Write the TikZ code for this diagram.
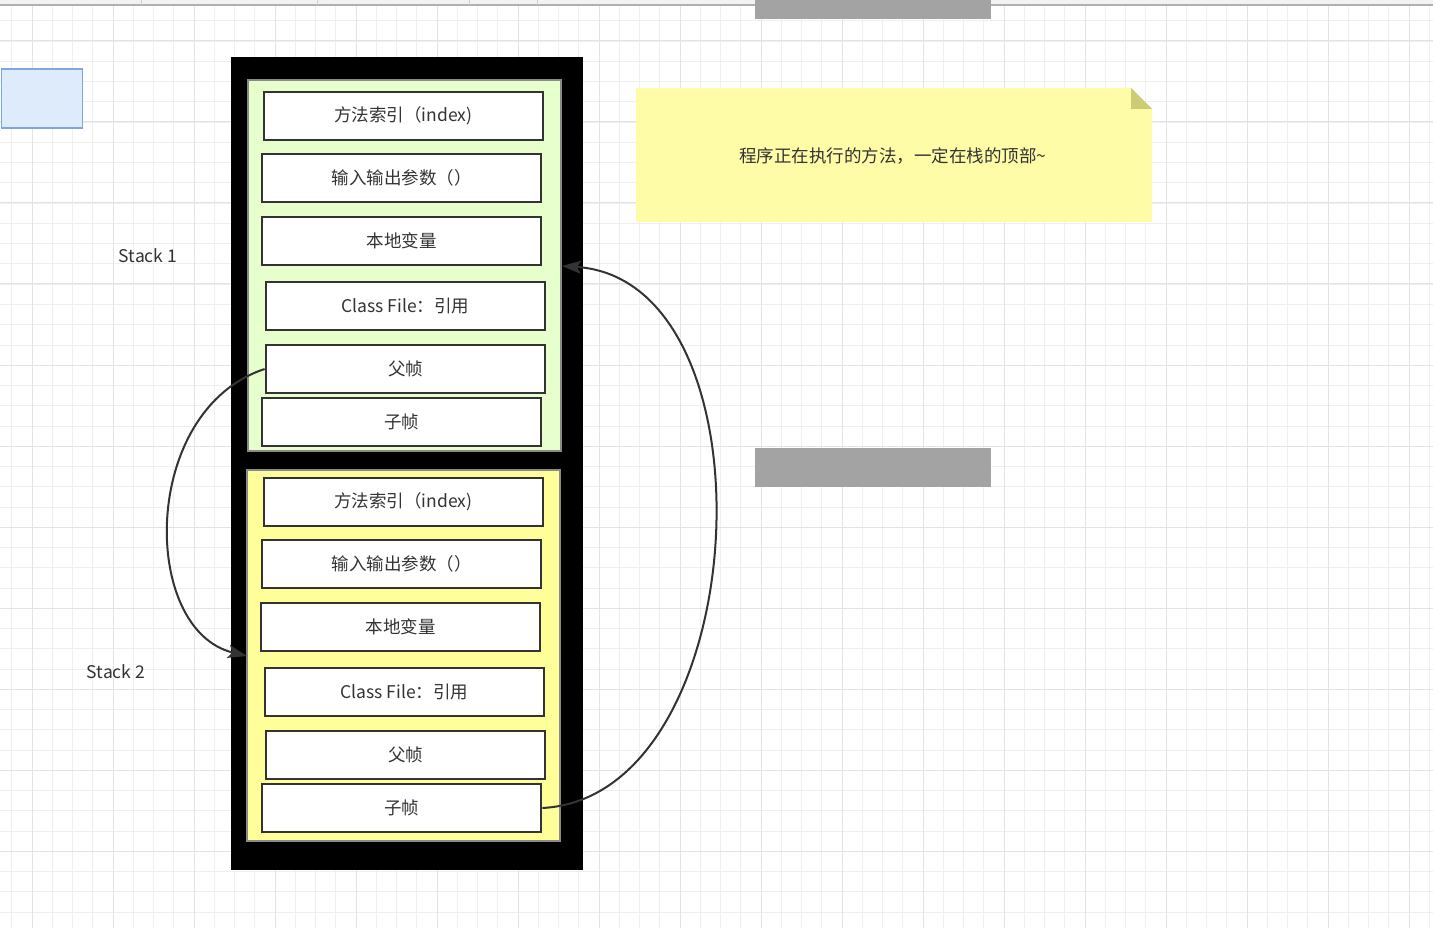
\documentclass[tikz,border=0pt]{standalone}
\usepackage{fontspec}
\setmainfont{Noto Sans CJK SC}
\usetikzlibrary{arrows.meta}
\definecolor{gridminor}{HTML}{EFEFEF}
\definecolor{gridmajor}{HTML}{E3E3E3}
\definecolor{boxline}{HTML}{333333}
\definecolor{txt}{HTML}{333333}
\definecolor{greenfill}{HTML}{E6FFCC}
\definecolor{yellowfill}{HTML}{FFFF99}
\definecolor{notefill}{HTML}{FFFCA8}
\definecolor{notefold}{HTML}{CCCC77}
\definecolor{bluefill}{HTML}{DEEBFA}
\definecolor{blueline}{HTML}{7EA6E0}
\definecolor{barfill}{HTML}{A3A3A3}
\definecolor{bandfill}{HTML}{F2F2F2}
\definecolor{bandline}{HTML}{B0B0B0}
\definecolor{contline}{HTML}{8A8A8A}
\tikzset{
  framebox/.style={draw=boxline, line width=2.7pt, fill=white, inner sep=0pt,
    minimum width=279pt, minimum height=48pt, text=txt,
    font=\fontsize{17.5}{20}\selectfont},
  container/.style={draw=contline, line width=1.5pt, inner sep=0pt,
    minimum width=313pt, minimum height=371pt},
  label/.style={text=txt, font=\fontsize{17.5}{20}\selectfont},
  conn/.style={draw=boxline, line width=2pt,
    -{Stealth[length=19pt, width=13pt, inset=4pt]}},
}
\begin{document}
\begin{tikzpicture}[x=1pt,y=-1pt]
\useasboundingbox (0,0) rectangle (1433,928);
\fill[white] (0,0) rectangle (1433,928);
% grid
\foreach \y in {21,41.25,...,928} \draw[gridminor, line width=1pt] (0,\y) -- (1433,\y);
\foreach \x in {11.75,32,...,1433} \draw[gridminor, line width=1pt] (\x,5) -- (\x,928);
\foreach \y in {41,122,...,928} \draw[gridmajor, line width=1pt] (0,\y) -- (1433,\y);
\foreach \x in {32,113,...,1433} \draw[gridmajor, line width=1pt] (\x,5) -- (\x,928);
% top band
\fill[bandfill] (0,0) rectangle (1433,5);
\draw[bandline, line width=1.2pt] (0,5) -- (1433,5);
\foreach \x in {141,317,469,537} \draw[bandline!60, line width=1pt] (\x,0) -- (\x,5);
% gray bars
\fill[barfill] (755,0) rectangle (991,19);
\fill[barfill] (755,448) rectangle (991,487);
% light blue box
\node[draw=blueline, fill=bluefill, line width=1.2pt, inner sep=0pt,
  minimum width=81pt, minimum height=59pt] (blue) at (42,98.5) {};
% outer frame
\node[fill=black, draw=black, inner sep=0pt, minimum width=351pt, minimum height=812pt] (frame) at (406.5,463) {};
\node[container, fill=greenfill] (green) at (404.5,265.5) {};
\node[container, fill=yellowfill] (yellow) at (403.5,655.5) {};
% stack 1
\node[framebox] (a1) at (403.5,116) {方法索引（index)};
\node[framebox] (a2) at (401.5,178) {输入输出参数（）};
\node[framebox] (a3) at (401.5,241) {本地变量};
\node[framebox] (a4) at (405.5,306) {Class File：引用};
\node[framebox] (a5) at (405.5,369) {父帧};
\node[framebox] (a6) at (401.5,422) {子帧};
% stack 2
\node[framebox] (b1) at (403.5,502) {方法索引（index)};
\node[framebox] (b2) at (401.5,564) {输入输出参数（）};
\node[framebox] (b3) at (400.5,627) {本地变量};
\node[framebox] (b4) at (404.5,692) {Class File：引用};
\node[framebox] (b5) at (405.5,755) {父帧};
\node[framebox] (b6) at (401.5,808) {子帧};
% labels
\node[label] (s1) at (148,256) {Stack 1};
\node[label] (s2) at (116,672) {Stack 2};
% note
\fill[notefill] (636,88) -- (1131,88) -- (1152,109) -- (1152,222) -- (636,222) -- cycle;
\fill[notefold] (1131,88) -- (1152,109) -- (1131,109) -- cycle;
\node[label] (note) at (893,156) {程序正在执行的方法，一定在栈的顶部\textasciitilde};
% connectors
\coordinate (t1) at (247,656);
\coordinate (t2) at (562,266);
\draw[conn] (a5.west) .. controls (140,410) and (140,630) .. (t1);
\draw[conn] (b6.east) .. controls (756,797) and (780,280) .. (t2);
\end{tikzpicture}
\end{document}
